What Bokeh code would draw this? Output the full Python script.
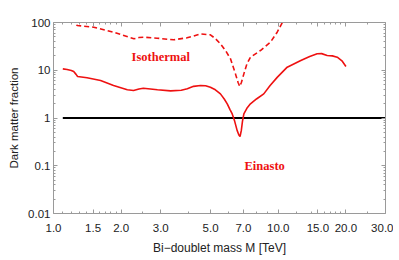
from bokeh.plotting import figure
from bokeh.models import FixedTicker, LogAxis, Label, PrintfTickFormatter, Range1d
from bokeh.embed import file_html
from bokeh.resources import INLINE

# Einasto profile (solid)
ein_m = [1.10, 1.15, 1.20, 1.23, 1.26, 1.28, 1.41, 1.62, 1.85, 2.13, 2.27, 2.40, 2.51, 2.70, 2.90,
         3.32, 3.70, 3.94, 4.20, 4.51, 4.75, 4.99, 5.25, 5.53, 5.75, 5.93, 6.10, 6.24, 6.40, 6.56,
         6.68, 6.76, 6.85, 6.93, 7.03, 7.25, 7.52, 8.0, 8.62, 9.2, 9.89, 10.96, 12.6, 13.8, 14.9,
         15.6, 16.5, 17.4, 18.3, 19.2, 20.0]
ein_f = [10.7, 10.4, 9.9, 9.4, 8.2, 7.4, 6.95, 6.1, 4.8, 3.9, 3.77, 4.05, 4.2, 4.05, 3.9,
         3.7, 3.8, 4.1, 4.6, 4.8, 4.75, 4.4, 3.9, 3.2, 2.5, 1.98, 1.5, 1.22, 0.85, 0.55,
         0.44, 0.41, 0.55, 0.85, 1.22, 1.6, 1.98, 2.5, 3.2, 4.8, 7.1, 11.6, 16.0, 19.5, 22.1,
         22.3, 20.4, 20.0, 18.8, 15.8, 12.0]

# Isothermal profile (dashed)
iso_m = [1.20, 1.275, 1.51, 1.85, 2.28, 2.40, 2.52, 2.89, 3.43, 3.93, 4.20, 4.51, 4.99, 5.25, 5.53,
         5.85, 6.13, 6.45, 6.62, 6.74, 6.86, 7.03, 7.25, 7.52, 8.33, 9.23, 9.89, 10.5]
iso_f = [120, 86.5, 79.8, 62.7, 45.6, 48.5, 49.2, 46.9, 43.4, 47.8, 52.0, 57.9, 55.2, 46.0, 35.8,
         25.0, 17.4, 8.4, 5.6, 4.57, 5.6, 8.4, 13.5, 18.8, 25.9, 38.7, 62.7, 106]

ref_m = [1.1, 30.0]
ref_f = [1.0, 1.0]

x_ticks = [1.0, 1.5, 2.0, 3.0, 5.0, 7.0, 10.0, 15.0, 20.0, 30.0]
x_minor = [1.1, 1.2, 1.3, 1.4, 1.6, 1.7, 1.8, 1.9, 2.5, 4.0, 6.0, 8.0, 9.0, 12.0, 14.0,
           16.0, 17.0, 18.0, 19.0, 25.0]
y_ticks = [0.01, 0.1, 1, 10, 100]
y_labels = ["0.01", "0.1", "1", "10", "100"]
y_minor = [m * d for d in [0.01, 0.1, 1, 10] for m in range(2, 10)]

AX = "#9a9a9a"
FONT = "Liberation Sans"
RED = "#ee1111"

p = figure(frame_width=332, frame_height=191, x_axis_type="log", y_axis_type="log",
           x_range=Range1d(1, 30), y_range=Range1d(0.01, 100),
           output_backend="svg", toolbar_location=None,
           min_border_left=53, min_border_right=8, min_border_top=22, min_border_bottom=40)
p.grid.visible = False
p.outline_line_color = None
p.background_fill_color = "white"

p.line(ref_m, ref_f, line_color="black", line_width=1.8)
p.line(ein_m, ein_f, line_color=RED, line_width=1.6)
p.line(iso_m, iso_f, line_color=RED, line_width=1.6, line_dash="5 3")

def style(ax, labels=True):
    ax.axis_line_color = AX
    ax.major_tick_line_color = AX
    ax.minor_tick_line_color = AX
    ax.major_tick_in = 4
    ax.major_tick_out = 0
    ax.minor_tick_in = 2
    ax.minor_tick_out = 0
    ax.major_label_text_font = FONT
    ax.major_label_text_font_size = "11.5px"
    ax.major_label_text_color = "#222222"
    ax.axis_label_text_font = FONT
    ax.axis_label_text_font_style = "normal"
    ax.axis_label_text_font_size = "11.5px"
    ax.axis_label_text_color = "#222222"
    if not labels:
        ax.major_label_text_font_size = "0px"
        ax.major_label_standoff = 0

xt = FixedTicker(ticks=x_ticks, minor_ticks=x_minor)
yt = FixedTicker(ticks=y_ticks, minor_ticks=y_minor)

xa = p.xaxis[0]
xa.ticker = xt
xa.formatter = PrintfTickFormatter(format="%.1f")
xa.axis_label = "Bi\u2212doublet mass M [TeV]"
style(xa)
xa.axis_label_text_font_size = "12px"
xa.major_label_standoff = 10
xa.axis_label_standoff = 6

ya = p.yaxis[0]
ya.ticker = yt
ya.major_label_overrides = {v: s for v, s in zip(y_ticks, y_labels)}
ya.axis_label = "Dark matter fraction"
style(ya)
ya.major_label_standoff = 3
ya.axis_label_standoff = 5

top = LogAxis(ticker=xt)
style(top, labels=False)
top.major_label_overrides = {v: "" for v in x_ticks}
p.add_layout(top, "above")

right = LogAxis(ticker=yt)
style(right, labels=False)
right.major_label_overrides = {v: "" for v in y_ticks}
p.add_layout(right, "right")

p.add_layout(Label(x=3.0, y=18.5, text="Isothermal", text_color=RED,
                   text_font="Liberation Serif", text_font_style="bold",
                   text_font_size="12.5px", text_align="center", text_baseline="middle"))
p.add_layout(Label(x=8.7, y=0.1, text="Einasto", text_color=RED,
                   text_font="Liberation Serif", text_font_style="bold",
                   text_font_size="12.5px", text_align="center", text_baseline="middle"))

open("out.html", "w").write(file_html(p, INLINE))
